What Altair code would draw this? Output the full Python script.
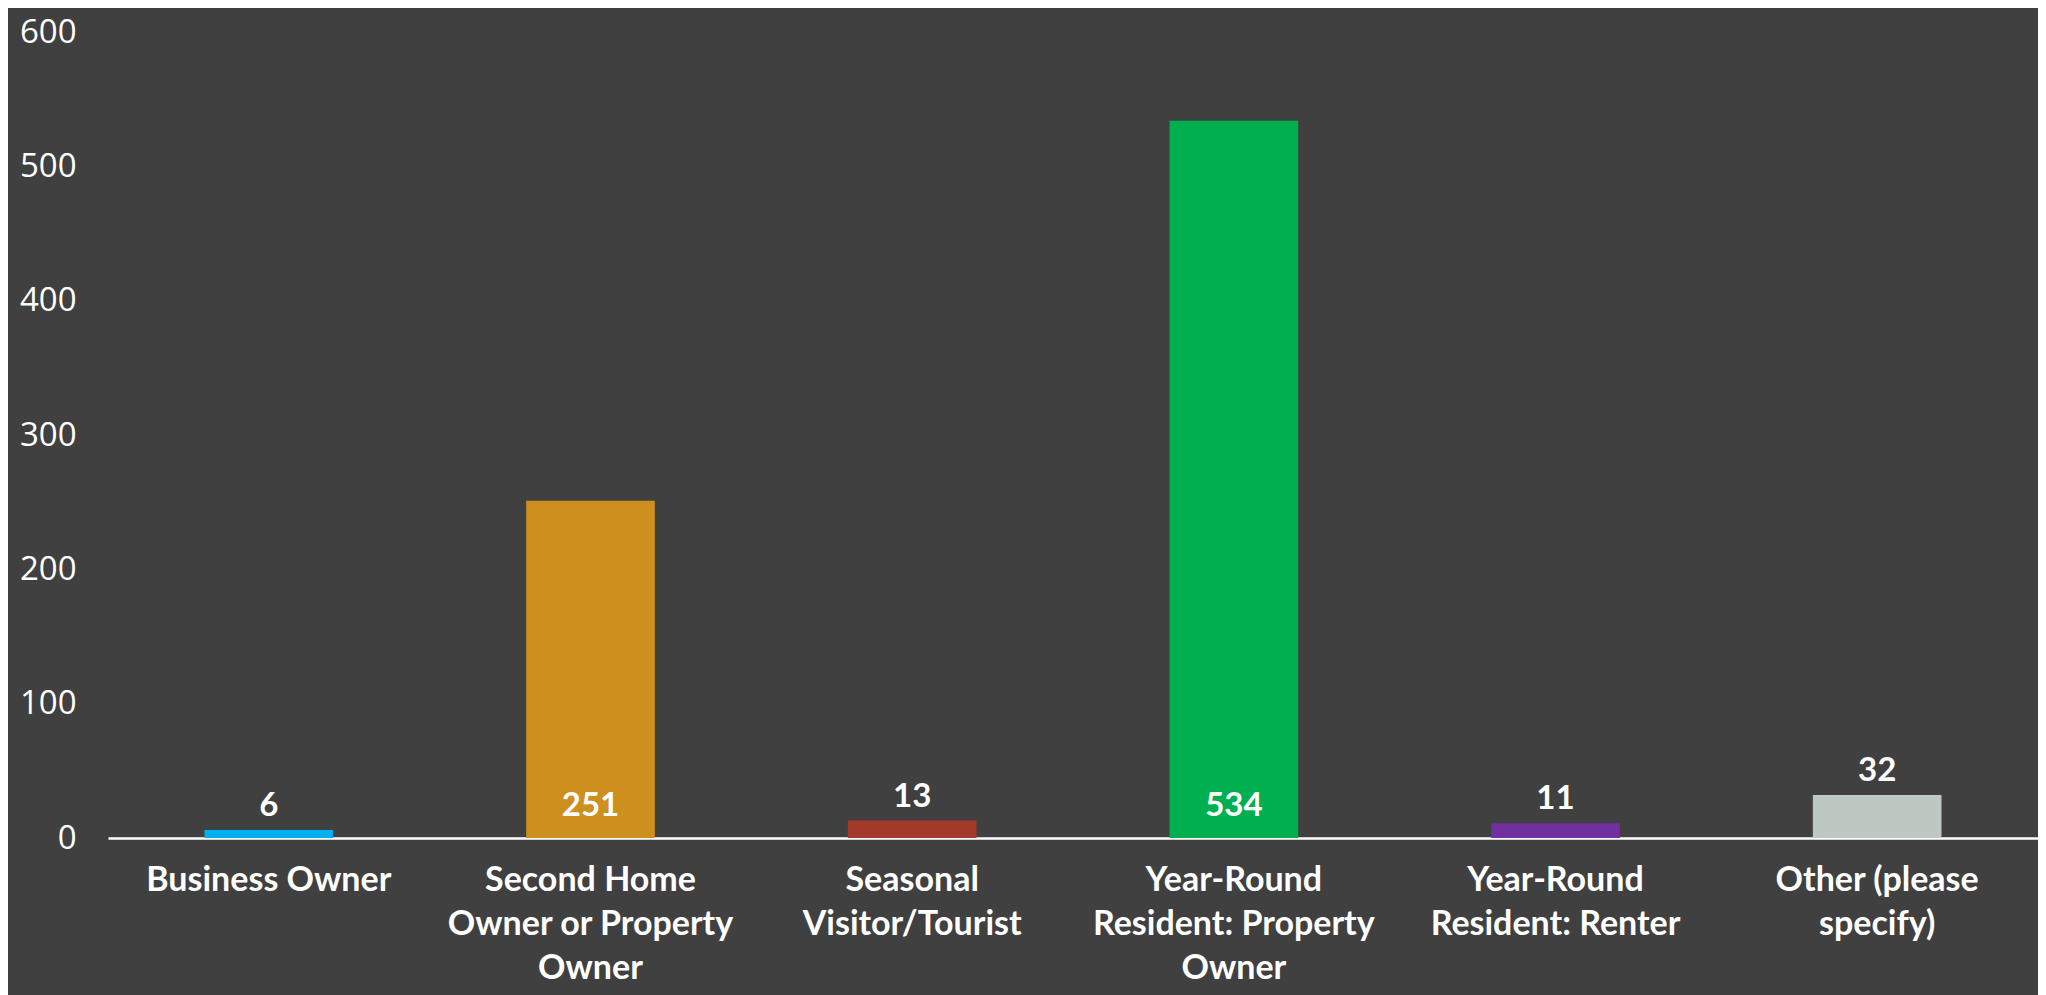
import altair as alt
import pandas as pd

categories = [
    "Business Owner",
    "Second Home Owner or Property Owner",
    "Seasonal Visitor/Tourist",
    "Year-Round Resident: Property Owner",
    "Year-Round Resident: Renter",
    "Other (please specify)",
]
label_lines = [
    ["Business Owner"],
    ["Second Home", "Owner or Property", "Owner"],
    ["Seasonal", "Visitor/Tourist"],
    ["Year-Round", "Resident: Property", "Owner"],
    ["Year-Round", "Resident: Renter"],
    ["Other (please", "specify)"],
]
values = [6, 251, 13, 534, 11, 32]
colors = ["#00B0F0", "#CD901E", "#A33A29", "#00B050", "#7030A0", "#BEC8C2"]

df = pd.DataFrame({"category": categories, "value": values, "color": colors})

label_map = {c: "|".join(l) for c, l in zip(categories, label_lines)}
expr_parts = " : ".join(
    [f"datum.label == '{c}' ? split('{w}', '|')" for c, w in label_map.items()]
) + " : datum.label"

BOLD_FONT = "Lato"
TICK_FONT = "Open Sans"

x_enc = alt.X(
    "category:N",
    sort=categories,
    title=None,
    scale=alt.Scale(paddingInner=0.6, paddingOuter=0.3),
    axis=alt.Axis(
        labelExpr=expr_parts,
        labelAngle=0,
        labelFont=BOLD_FONT,
        labelFontWeight="bold",
        labelFontSize=34,
        labelColor="#FFFFFF",
        labelLineHeight=44,
        labelBaseline="top",
        labelPadding=25,
        ticks=False,
        domainColor="#FFFFFF",
        domainWidth=2.5,
        labelLimit=400,
    ),
)

y_scale = alt.Scale(domain=[0, 600])

bars = alt.Chart(df).mark_bar().encode(
    x=x_enc,
    y=alt.Y(
        "value:Q",
        scale=y_scale,
        title=None,
        axis=alt.Axis(
            values=[0, 100, 200, 300, 400, 500, 600],
            grid=False,
            domain=False,
            ticks=False,
            labelFont=TICK_FONT,
            labelFontSize=33,
            labelColor="#FFFFFF",
            labelPadding=32,
        ),
    ),
    color=alt.Color("color:N", scale=None),
)

small = alt.Chart(df).transform_filter("datum.value < 100").mark_text(
    font=BOLD_FONT, fontWeight="bold", fontSize=33, color="#FFFFFF",
    baseline="middle", dy=-24,
).encode(
    x=alt.X("category:N", sort=categories),
    y=alt.Y("value:Q", scale=y_scale),
    text="value:Q",
)

large = alt.Chart(df).transform_filter("datum.value >= 100").transform_calculate(
    base="0"
).mark_text(
    font=BOLD_FONT, fontWeight="bold", fontSize=33, color="#FFFFFF",
    baseline="middle", dy=-32,
).encode(
    x=alt.X("category:N", sort=categories),
    y=alt.Y("base:Q", scale=y_scale),
    text="value:Q",
)

chart = alt.layer(bars, small, large).properties(
    width=1930,
    height=806,
    background="#404040",
    padding={"left": 100, "top": 24, "right": 0, "bottom": 157},
    autosize=alt.AutoSizeParams(type="none"),
).configure_view(stroke=None)

chart.save("out.html", embed_options={"renderer": "svg", "actions": False})
